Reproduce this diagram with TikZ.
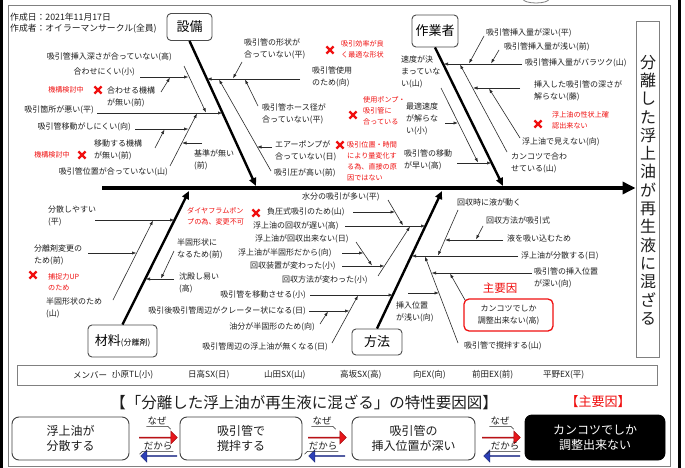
\documentclass[tikz,border=0pt]{standalone}
\usepackage{fontspec}
\setmainfont{Noto Sans CJK JP}
\usetikzlibrary{arrows.meta,shapes.arrows}
\definecolor{txt}{HTML}{1E1E1E}
\definecolor{ln}{HTML}{2A2A2A}
\definecolor{rd}{HTML}{F01010}
\definecolor{frm}{HTML}{808080}
\definecolor{ared}{HTML}{E8161B}
\definecolor{ablue}{HTML}{2C3FB8}
\newcommand\fs{\fontsize{8}{12}\selectfont}
\newcommand\fr{\fontsize{7.1}{11}\selectfont}
\newcommand\mk[3]{\coordinate (#1a) at #2; \coordinate (#1b) at #3; \draw[sub] (#1a) -- (#1b);}
\tikzset{
  lab/.style={font=\fs, text=txt, inner sep=0pt, align=left},
  rlab/.style={font=\fr, text=rd, inner sep=0pt, align=left},
  sub/.style={draw=ln, line width=0.6pt, -{Latex[length=4.5pt,width=3.2pt]}},
  bone/.style={draw=black, line width=2.4pt, -{Triangle[length=8pt,width=7pt]}},
  cat/.style={draw=black!70, line width=0.9pt, rounded corners=4pt, fill=white, font=\fontsize{13}{15}\selectfont, text=black, inner sep=0pt},
  info/.style={font=\fontsize{8.8}{10}\selectfont, text=txt, inner sep=0pt, anchor=west},
  mt/.style={font=\fontsize{8.5}{10}\selectfont, text=txt, inner sep=0pt, anchor=west},
  bb/.style={draw=black!75, line width=0.9pt, rounded corners=7pt, minimum height=43pt, font=\fontsize{12}{15}\selectfont, text=txt, align=center, inner sep=0pt},
  ra/.style={single arrow, single arrow head extend=3pt, minimum height=38pt, minimum width=13pt, inner sep=0pt, fill=ared, draw=ared!70!black, line width=0.5pt},
  ba/.style={single arrow, single arrow head extend=3pt, minimum height=36pt, minimum width=12pt, inner sep=0pt, fill=ablue, draw=ablue!70!black, line width=0.5pt, shape border rotate=180},
  wl/.style={font=\fontsize{9.5}{10}\selectfont, text=txt, inner sep=1pt},
  redx/.pic={\draw[rd, line width=2.4pt] (-3.6,-3.6) -- (3.6,3.6) (-3.6,3.6) -- (3.6,-3.6);}
}
\begin{document}
\begin{tikzpicture}[x=1pt,y=-1pt]
\useasboundingbox (0,0) rectangle (685,468);
\fill[white] (0,0) rectangle (685,468);
% frames
\draw[frm, line width=0.8pt] (8,5) rectangle (670,466);
\fill[black] (0,0) rectangle (3,468);
\fill[black] (677.5,0) rectangle (681,468);
\draw[frm, line width=0.8pt] (536,-1) ellipse (13 and 4);

% info
\node[info] (d1) at (10,17) {作成日：2021年11月17日};
\node[info] (d2) at (10,29) {作成者：オイラーマンサークル(全員)};

% head
\node[draw=frm, line width=0.9pt, minimum width=23pt, minimum height=336pt, inner sep=0pt] (head) at (647.5,189) {};
\node[font=\fontsize{16}{18.3}\selectfont, align=center, inner sep=0pt, text=txt] (headtxt) at (648,190) {分\\離\\し\\た\\浮\\上\\油\\が\\再\\生\\液\\に\\混\\ざ\\る};

% spine
\coordinate (sp0) at (102,188);
\draw[line width=3.5pt, -{Triangle[length=13pt,width=12pt]}] (sp0) -- (sp0 -| head.west);

% categories
\node[cat, minimum width=45pt, minimum height=27pt] (c1) at (189.5,27) {設備};
\node[cat, minimum width=46pt, minimum height=32pt] (c2) at (435,31) {作業者};
\node[cat, minimum width=69pt, minimum height=32pt] (c3) at (122.5,341) {材料{\fontsize{8}{9}\selectfont(分離剤)}};
\node[cat, minimum width=50pt, minimum height=26pt] (c4) at (377,342) {方法};

% bones
\coordinate (b1e) at (256,186); \draw[bone] (c1.south) -- (b1e);
\coordinate (b2e) at (503,186); \draw[bone] (c2.south) -- (b2e);
\coordinate (b3e) at (189,191); \draw[bone] (c3.north) -- (b3e);
\coordinate (b4e) at (442,191); \draw[bone] (c4.north) -- (b4e);

% --- 設備 sub-bones
\mk{s1}{(97,113)}{(222.5,113)}
\mk{s2}{(184,66)}{(206,112.5)}
\mk{s3}{(140,77)}{(188.5,77)}
\mk{s4}{(161,92)}{(170,77.5)}
\mk{s5}{(170,166)}{(197,113.5)}
\mk{s6}{(135,129)}{(188.5,129)}
\mk{s7}{(155,148)}{(164.5,129.5)}
\mk{s8}{(202,143)}{(182,143)}
\mk{s9}{(300,79)}{(207,79)}
\mk{s10}{(242,62)}{(233,78.5)}
\mk{s11}{(258,106)}{(245,79.5)}
\mk{s12}{(271,171)}{(219,79.5)}
\mk{s13}{(272,147)}{(257,147)}

\node[lab, anchor=east] (t1) at (172,57) {吸引管挿入深さが合っていない(高)};
\node[lab, anchor=east] (t2) at (135,72) {合わせにくい(小)};
\node[lab, anchor=west] (t3) at (107,96.5) {合わせる機構\\が無い(前)};
\node[rlab] (r1) at (66,90) {機構検討中};
\pic at (98,90) {redx};
\node[lab, anchor=east] (t4) at (94,110) {吸引箇所が悪い(平)};
\node[lab, anchor=east] (t5) at (131,127) {吸引管移動がしにくい(向)};
\node[lab, anchor=west] (t6) at (94,150) {移動する機構\\が無い(前)};
\node[rlab] (r2) at (52,155) {機構検討中};
\pic at (82,155) {redx};
\node[lab, anchor=east] (t7) at (168,172) {吸引管位置が合っていない(山)};
\node[lab, anchor=west] (t8) at (194,160) {基準が無い\\(前)};
\node[lab, anchor=west] (t9) at (244,49) {吸引管の形状が\\合っていない(平)};
\pic at (330,50) {redx};
\node[rlab, anchor=west] (r3) at (341,49) {吸引効率が良\\く最適な形状};
\node[lab, anchor=west] (t10) at (312,77) {吸引管使用\\のため(向)};
\node[lab, anchor=west] (t11) at (262,114) {吸引管ホース径が\\合っていない(平)};
\pic at (353,115) {redx};
\node[rlab, anchor=west] (r4) at (363,110.5) {使用ポンプ・\\吸引管に\\合っている};
\node[lab, anchor=west] (t12) at (275,151) {エアーポンプが\\合っていない(日)};
\pic at (340,145) {redx};
\node[rlab, anchor=west] (r5) at (347,161) {吸引位置・時間\\により量変化す\\る為、直接の原\\因ではない};
\node[lab, anchor=west] (t13) at (274,173) {吸引圧が高い(前)};

% --- 作業者 sub-bones
\mk{w1}{(457,163)}{(491.5,163)}
\mk{w2}{(441,88)}{(478,162.5)}
\mk{w3}{(445,123)}{(458,123)}
\mk{w4}{(522,64)}{(443.5,64)}
\mk{w5}{(484,36)}{(469,63.5)}
\mk{w6}{(499,50)}{(491,63.5)}
\mk{w7}{(507,152)}{(460,64.5)}
\mk{w8}{(520,88)}{(473,88)}
\mk{w9}{(520,138)}{(489,88.5)}

\node[lab, anchor=west] (t14) at (401,71.5) {速度が決\\まっていな\\い(山)};
\node[lab, anchor=west] (t15) at (406,119) {最適速度\\が解らな\\い(小)};
\node[lab, anchor=west] (t16) at (404,160) {吸引管の移動\\が早い(高)};
\node[lab, anchor=west] (t17) at (486,33) {吸引管挿入量が深い(平)};
\node[lab, anchor=west] (t18) at (504,47) {吸引管挿入量が浅い(前)};
\node[lab, anchor=west] (t19) at (525,63) {吸引管挿入量がバラツク(山)};
\node[lab, anchor=west] (t20) at (534,91) {挿入した吸引管の深さが\\解らない(藤)};
\pic at (538,124) {redx};
\node[rlab, anchor=west] (r6) at (552,120.5) {浮上油の性状上確\\認出来ない};
\node[lab, anchor=west] (t21) at (522,142) {浮上油で見えない(向)};
\node[lab, anchor=west] (t22) at (511,162.5) {カンコツで合わ\\せている(山)};

% --- 材料 sub-bones
\mk{m1}{(95,220)}{(174.5,220)}
\mk{m2}{(113,300)}{(153,220.5)}
\mk{m3}{(88,253)}{(136.5,253)}
\mk{m4}{(174,279)}{(145.5,279)}
\mk{m5}{(174,251)}{(161,278.5)}

\node[lab, anchor=west] (t23) at (48,216) {分散しやすい\\(平)};
\node[lab, anchor=west] (t24) at (34,254.5) {分離剤変更の\\ため(前)};
\pic at (33,275) {redx};
\node[rlab, anchor=west] (r7) at (48,282) {捕捉力UP\\のため};
\node[lab, anchor=west] (t25) at (46,308) {半固形状のため\\(山)};
\node[rlab, anchor=west] (r8) at (187,216) {ダイヤフラムポン\\プの為、変更不可};
\pic at (256,213) {redx};
\node[lab, anchor=west] (t26) at (177,249) {半固形状に\\なるため(前)};
\node[lab, anchor=west] (t27) at (179,283) {沈殿し易い\\(高)};

% --- 方法 sub-bones
\mk{h1}{(345,226)}{(425.5,226)}
\mk{h2}{(388,200)}{(403,225.5)}
\mk{h3}{(353,212)}{(395,212)}
\mk{h4}{(378,276)}{(410,226.5)}
\mk{h5}{(342,266)}{(384.5,266)}
\mk{h6}{(356,242)}{(372,265.5)}
\mk{h7}{(342,253)}{(363.5,253)}
\mk{h8}{(310,295)}{(393,295)}
\mk{h9}{(332,343)}{(358,295.5)}
\mk{h10}{(309,311)}{(349.5,311)}
\mk{h11}{(320,324)}{(328,311.5)}
\mk{h12}{(518,256)}{(411.5,256)}
\mk{h13}{(458,210)}{(438,255.5)}
\mk{h14}{(503,240)}{(445,240)}
\mk{h15}{(483,226)}{(476,239.5)}
\mk{h16}{(458,343)}{(425,256.5)}
\mk{h17}{(532,273)}{(431.5,273)}
\mk{h19}{(408,293)}{(439,293)}

\node[lab, anchor=west] (t28) at (302,197) {水分の吸引が多い(平)};
\node[lab, anchor=west] (t29) at (267,212) {負圧式吸引のため(山)};
\node[lab, anchor=west] (t30) at (253,226) {浮上油の回収が遅い(高)};
\node[lab, anchor=west] (t31) at (255,239) {浮上油が回収出来ない(日)};
\node[lab, anchor=west] (t32) at (238,253) {浮上油が半固形だから(向)};
\node[lab, anchor=west] (t33) at (250,266) {回収装置が変わった(小)};
\node[lab, anchor=west] (t34) at (282,280) {回収方法が変わった(小)};
\node[lab, anchor=east] (t35) at (306,295) {吸引管を移動させる(小)};
\node[lab, anchor=east] (t36) at (306,311) {吸引後吸引管周辺がクレーター状になる(日)};
\node[lab, anchor=east] (t37) at (315,327) {油分が半固形のため(向)};
\node[lab, anchor=east] (t38) at (328,347) {吸引管周辺の浮上油が無くなる(日)};
\node[lab, anchor=west] (t39) at (396,311.5) {挿入位置\\が浅い(向)};
\node[lab, anchor=west] (t40) at (457,202) {回収時に液が動く};
\node[lab, anchor=west] (t41) at (486,220) {回収方法が吸引式};
\node[lab, anchor=west] (t42) at (507,238) {液を吸い込むため};
\node[lab, anchor=west] (t43) at (521,256) {浮上油が分散する(日)};
\node[lab, anchor=west] (t44) at (534,277.5) {吸引管の挿入位置\\が深い(向)};
\node[font=\fontsize{11.5}{12}\selectfont, text=rd, inner sep=0pt] (t45) at (500,288) {主要因};
\node[draw=rd, line width=1.3pt, rounded corners=5pt, minimum width=89pt, minimum height=32pt, font=\fs, text=txt, align=center, inner sep=0pt] (kb) at (508.5,315) {カンコツでしか\\調整出来ない(高)};
\coordinate (h18a) at (465,300); \coordinate (h18b) at (450,273.5);
\draw[sub] (h18a) -- (h18b);
\node[lab, anchor=west] (t46) at (464,346) {吸引管で撹拌する(山)};

% --- members
\node[draw=frm, line width=0.8pt, minimum width=640pt, minimum height=20pt, inner sep=0pt] (mem) at (337,375) {};
\node[mt] (mb0) at (73,375) {メンバー ：};
\node[mt] (mb1) at (112,375) {小原TL(小)};
\node[mt] (mb2) at (188,375) {日高SX(日)};
\node[mt] (mb3) at (264,375) {山田SX(山)};
\node[mt] (mb4) at (340,375) {高坂SX(高)};
\node[mt] (mb5) at (413,375) {向EX(向)};
\node[mt] (mb6) at (472,375) {前田EX(前)};
\node[mt] (mb7) at (543,375) {平野EX(平)};

% --- title
\node[font=\fontsize{15.5}{17}\selectfont, text=txt, inner sep=0pt] (title) at (304,402) {【「分離した浮上油が再生液に混ざる」の特性要因図】};
\node[font=\fontsize{13}{15}\selectfont, text=rd, inner sep=0pt] (mainc) at (598,402) {【主要因】};

% --- why chain
\node[bb, minimum width=117pt] (k1) at (70.5,438.5) {浮上油が\\分散する};
\node[bb, minimum width=122pt] (k2) at (241,438.5) {吸引管で\\撹拌する};
\node[bb, minimum width=123pt] (k3) at (413.5,438.5) {吸引管の\\挿入位置が深い};
\node[bb, fill=black, draw=black, text=white, minimum width=140pt, minimum height=45pt] (k4) at (595,437.5) {カンコツでしか\\調整出来ない};

\node[ra] (a1) at (158,437.5) {};
\node[ba] (a2) at (159,456) {};
\node[ra] (a3) at (327,437.5) {};
\node[ba] (a4) at (327,456) {};
\node[ra] (a5) at (501,437.5) {};
\node[ba] (a6) at (502,456) {};

\node[wl] (n1) at (157,421) {なぜ};
\node[wl] (n2) at (322,421) {なぜ};
\node[wl] (n3) at (500,421) {なぜ};
\node[wl] (y1) at (158,446) {だから};
\node[wl] (y2) at (323,446) {だから};
\node[wl] (y3) at (505,446) {だから};
\foreach \n in {n1,n2,n3}{
  \draw[ln, line width=0.5pt] (\n.south west) -- (\n.south east) -- ++(3,3);
}
\foreach \n in {y1,y2,y3}{
  \draw[ln, line width=0.5pt] (\n.south east) -- (\n.south west) -- ++(-3,3);
}
\end{tikzpicture}
\end{document}
